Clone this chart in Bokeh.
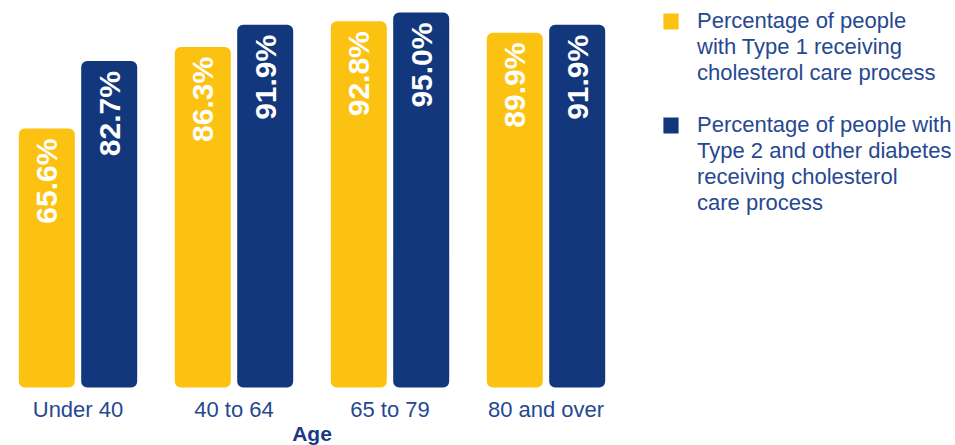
import numpy as np
from bokeh.plotting import figure
from bokeh.models import ColumnDataSource, Range1d, Legend, LegendItem
from bokeh.core.properties import value
from bokeh.embed import file_html
from bokeh.resources import INLINE

categories = ["Under 40", "40 to 64", "65 to 79", "80 and over"]
type1 = [65.6, 86.3, 92.8, 89.9]
type2 = [82.7, 91.9, 95.0, 91.9]
series1_lines = ["Percentage of people", "with Type 1 receiving", "cholesterol care process"]
series2_lines = ["Percentage of people with", "Type 2 and other diabetes",
                 "receiving cholesterol", "care process"]
axis_title = "Age"

YELLOW = "#FCC212"
BLUE = "#13377C"
TEXT = "#264892"
FONT = "Liberation Sans"

idx = np.arange(len(categories))
src1 = ColumnDataSource(dict(x=idx - 0.2, top=type1, lab=[f"{v:.1f}%" for v in type1]))
src2 = ColumnDataSource(dict(x=idx + 0.2, top=type2, lab=[f"{v:.1f}%" for v in type2]))
cat_src = ColumnDataSource(dict(x=idx, y=np.zeros(len(idx)), text=categories))
title_src = ColumnDataSource(dict(x=[idx.mean()], y=[0.0], text=[axis_title]))

W, H = 955, 445
p = figure(width=W, height=H, output_backend="svg", toolbar_location=None,
           x_range=Range1d(-0.4968, -0.4968 + W / 156.0), y_range=Range1d(-14.69, 98.05),
           x_axis_location=None, y_axis_location=None,
           min_border_left=0, min_border_right=0, min_border_top=0, min_border_bottom=0)
p.outline_line_color = None
p.grid.visible = False
p.background_fill_color = None
p.border_fill_color = "white"

r1 = p.vbar(x="x", top="top", width=0.359, source=src1, fill_color=YELLOW,
            line_color=None, border_radius=6)
r2 = p.vbar(x="x", top="top", width=0.359, source=src2, fill_color=BLUE,
            line_color=None, border_radius=6)

for s in (src1, src2):
    p.text(x="x", y="top", text="lab", source=s, angle=np.pi / 2,
           text_align="right", text_baseline="middle", y_offset=10,
           text_color="white", text_font=value(FONT), text_font_style="bold",
           text_font_size="30px")

p.text(x="x", y="y", text="text", source=cat_src, y_offset=22,
       text_align="center", text_baseline="alphabetic", text_color=TEXT,
       text_font=value(FONT), text_font_size="22px")
p.text(x="x", y="y", text="text", source=title_src, y_offset=46,
       text_align="center", text_baseline="alphabetic", text_color="#1A3A85",
       text_font=value(FONT), text_font_style="bold", text_font_size="21px")

items = [LegendItem(label=series1_lines[0], renderers=[r1])]
items += [LegendItem(label=t, renderers=[]) for t in series1_lines[1:]]
items += [LegendItem(label=" ", renderers=[])]
items += [LegendItem(label=series2_lines[0], renderers=[r2])]
items += [LegendItem(label=t, renderers=[]) for t in series2_lines[1:]]

PAD = 0
ROW = 26.3
legend_h = 2 * PAD + ROW * len(items)
legend = Legend(items=items, location=(661 - PAD, H - 6 - legend_h), orientation="vertical")
legend.glyph_width = 19
legend.glyph_height = 20
legend.label_standoff = 17
legend.spacing = 0
legend.padding = PAD
legend.margin = 0
legend.label_height = 26
legend.label_text_font = FONT
legend.label_text_font_size = "22px"
legend.label_text_color = TEXT
legend.background_fill_alpha = 0
legend.border_line_color = None
p.add_layout(legend, "center")

open("out.html", "w").write(file_html(p, INLINE))
